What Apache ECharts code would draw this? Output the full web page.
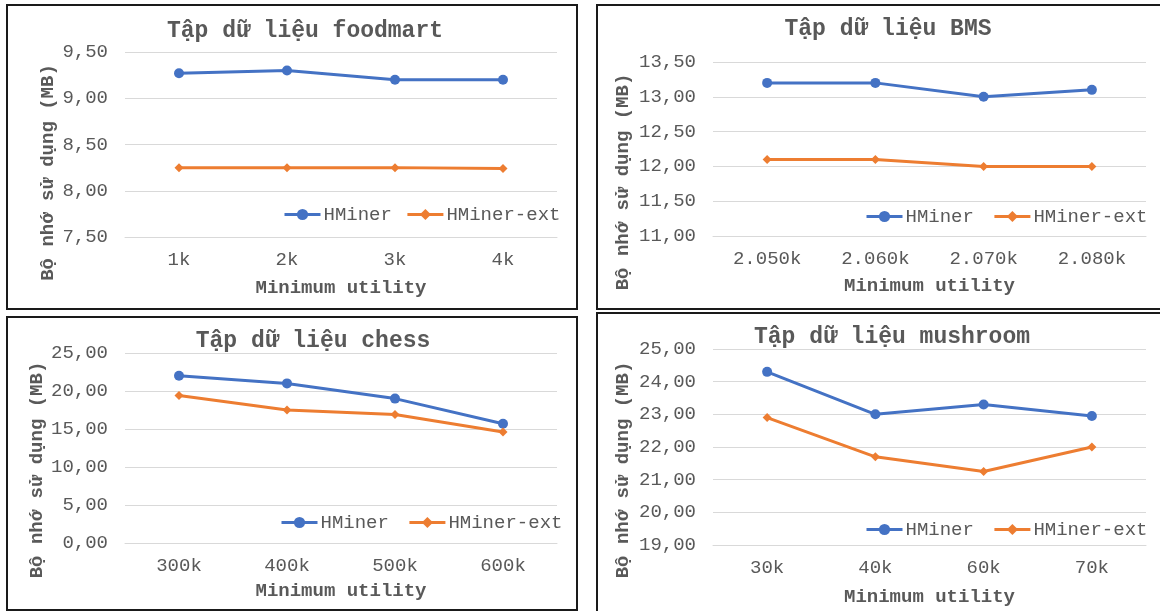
<!DOCTYPE html>
<html>
<head>
<meta charset="utf-8">
<script src="https://cdn.jsdelivr.net/npm/echarts@6/dist/echarts.min.js"></script>
<style>
  html, body { margin: 0; padding: 0; background: #fff; }
  #chart { width: 1160px; height: 611px; }
</style>
</head>
<body>
<div id="chart"></div>
<script>
// Dữ liệu bộ nhớ sử dụng (MB) theo Minimum utility
const foodmartLabels = ['1k', '2k', '3k', '4k'];
const foodmartHMiner = [9.27, 9.30, 9.20, 9.20];
const foodmartExt = [8.25, 8.25, 8.25, 8.24];

const bmsLabels = ['2.050k', '2.060k', '2.070k', '2.080k'];
const bmsHMiner = [13.2, 13.2, 13.0, 13.1];
const bmsExt = [12.1, 12.1, 12.0, 12.0];

const chessLabels = ['300k', '400k', '500k', '600k'];
const chessHMiner = [22.0, 21.0, 19.0, 15.7];
const chessExt = [19.4, 17.5, 16.9, 14.6];

const mushroomLabels = ['30k', '40k', '60k', '70k'];
const mushroomHMiner = [24.3, 23.0, 23.3, 22.95];
const mushroomExt = [22.9, 21.7, 21.25, 22.0];

const FONT = "'Liberation Mono', 'Courier New', monospace";
const TEXT = '#595959';
const BLUE = '#4472C4';
const ORANGE = '#ED7D31';

const chart = echarts.init(document.getElementById('chart'));

function fmt(v) {
    return v.toFixed(2).replace('.', ',');
}

// cấu hình từng ô: vị trí lưới, trục, tiêu đề, chú thích
const panels = [
    { title: 'Tập dữ liệu foodmart', labels: foodmartLabels, h: foodmartHMiner, e: foodmartExt,
      grid: { left: 125, right: 603, top: 52, bottom: 374 }, min: 7.5, max: 9.5, interval: 0.5,
      titlePos: [300, 15], legendPos: [283, 205], legendGap: 14, namePad: 56, nameGap: 67, xNameGap: 42 },
    { title: 'Tập dữ liệu BMS', labels: bmsLabels, h: bmsHMiner, e: bmsExt,
      grid: { left: 713, right: 14, top: 62, bottom: 375 }, min: 11, max: 13.5, interval: 0.5,
      titlePos: [883, 13], legendPos: [865, 207], legendGap: 19, namePad: 66, nameGap: 80, xNameGap: 41 },
    { title: 'Tập dữ liệu chess', labels: chessLabels, h: chessHMiner, e: chessExt,
      grid: { left: 125, right: 603, top: 353, bottom: 68 }, min: 0, max: 25, interval: 5,
      titlePos: [308, 325], legendPos: [280, 513], legendGap: 19, namePad: 44, nameGap: 78, xNameGap: 39 },
    { title: 'Tập dữ liệu mushroom', labels: mushroomLabels, h: mushroomHMiner, e: mushroomExt,
      grid: { left: 713, right: 14, top: 349, bottom: 66 }, min: 19, max: 25, interval: 1,
      titlePos: [887, 321], legendPos: [865, 520], legendGap: 19, namePad: 46, nameGap: 80, xNameGap: 43 }
];

const option = {
    backgroundColor: '#fff',
    animation: false,
    textStyle: { fontFamily: FONT },
    title: panels.map(p => ({
        text: p.title,
        left: p.titlePos[0],
        top: p.titlePos[1],
        textAlign: 'center',
        textStyle: { fontFamily: FONT, fontSize: 23, fontWeight: 'bold', color: TEXT }
    })),
    legend: panels.map(p => ({
        data: ['HMiner', 'HMiner-ext'],
        left: p.legendPos[0],
        top: p.legendPos[1],
        padding: 0,
        itemWidth: 36,
        itemHeight: 14,
        itemGap: p.legendGap,
        lineStyle: { width: 3 },
        textStyle: { fontFamily: FONT, fontSize: 19, color: TEXT, padding: [0, 0, 0, -2] }
    })),
    grid: panels.map(p => Object.assign({ containLabel: false }, p.grid)),
    xAxis: panels.map((p, i) => ({
        type: 'category',
        gridIndex: i,
        data: p.labels,
        boundaryGap: true,
        name: 'Minimum utility',
        nameLocation: 'middle',
        nameGap: p.xNameGap,
        nameTextStyle: { fontFamily: FONT, fontSize: 19, fontWeight: 'bold', color: TEXT },
        axisLine: { lineStyle: { color: '#d9d9d9' } },
        axisTick: { show: false },
        axisLabel: { fontFamily: FONT, fontSize: 19, color: TEXT, margin: 13 }
    })),
    yAxis: panels.map((p, i) => ({
        type: 'value',
        gridIndex: i,
        min: p.min,
        max: p.max,
        interval: p.interval,
        name: 'Bộ nhớ sử dụng (MB)',
        nameLocation: 'middle',
        nameGap: p.nameGap,
        nameRotate: 90,
        nameTextStyle: { fontFamily: FONT, fontSize: 19, fontWeight: 'bold', color: TEXT, padding: [0, p.namePad, 0, 0] },
        axisLine: { show: false },
        axisTick: { show: false },
        splitLine: { lineStyle: { color: '#d9d9d9' } },
        axisLabel: { fontFamily: FONT, fontSize: 19, color: TEXT, margin: 17, formatter: fmt }
    })),
    series: panels.flatMap((p, i) => [
        {
            name: 'HMiner', type: 'line', xAxisIndex: i, yAxisIndex: i, data: p.h,
            symbol: 'circle', symbolSize: 10,
            itemStyle: { color: BLUE }, lineStyle: { width: 3, color: BLUE }
        },
        {
            name: 'HMiner-ext', type: 'line', xAxisIndex: i, yAxisIndex: i, data: p.e,
            symbol: 'diamond', symbolSize: 9,
            itemStyle: { color: ORANGE }, lineStyle: { width: 3, color: ORANGE }
        }
    ]),
    // khung viền của bốn ô
    graphic: [
        { type: 'rect', shape: { x: 7, y: 5, width: 570, height: 304 }, style: { fill: null, stroke: '#1a1a1a', lineWidth: 2 } },
        { type: 'rect', shape: { x: 597, y: 5, width: 600, height: 304 }, style: { fill: null, stroke: '#1a1a1a', lineWidth: 2 } },
        { type: 'rect', shape: { x: 7, y: 317, width: 570, height: 293 }, style: { fill: null, stroke: '#1a1a1a', lineWidth: 2 } },
        { type: 'rect', shape: { x: 597, y: 313, width: 600, height: 320 }, style: { fill: null, stroke: '#1a1a1a', lineWidth: 2 } }
    ]
};

chart.setOption(option);
window.addEventListener('resize', () => chart.resize());
</script>
</body>
</html>
